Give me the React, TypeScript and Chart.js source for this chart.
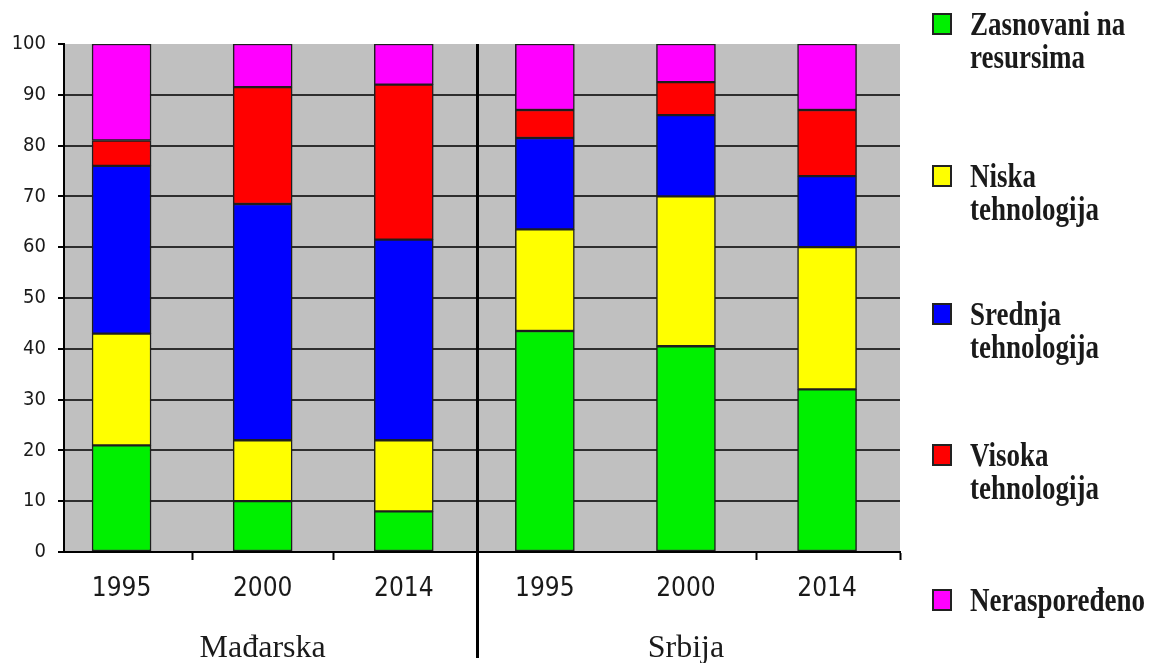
import React, { useEffect, useRef } from "react";
import { Chart, registerables } from "chart.js";

Chart.register(...registerables);

// ---- data ----
const categories = ["1995", "2000", "2014", "1995", "2000", "2014"];
const groupLabels = ["Mađarska", "Srbija"];
const groupCenters = [1, 4];
const resourceBased = [21, 10, 8, 43.5, 40.5, 32];
const lowTech = [22, 12, 14, 20, 29.5, 28];
const mediumTech = [33, 46.5, 39.5, 18, 16, 14];
const highTech = [5, 23, 30.5, 5.5, 6.5, 13];
const unallocated = [19, 8.5, 8, 13, 7.5, 13];
const seriesLabels = [
  ["Zasnovani na", "resursima"],
  ["Niska", "tehnologija"],
  ["Srednja", "tehnologija"],
  ["Visoka", "tehnologija"],
  ["Neraspoređeno"],
];
const seriesColors = ["#00f000", "#ffff00", "#0000ff", "#ff0000", "#ff00ff"];
const yTicks = [0, 10, 20, 30, 40, 50, 60, 70, 80, 90, 100];
const xTickMarks = [0.5, 1.5, 4.5];

const seriesValues = [resourceBased, lowTech, mediumTech, highTech, unallocated];

const X_MIN = -0.408;
const X_MAX = 5.517;
const SANS = "'DejaVu Sans Condensed', 'Liberation Sans', sans-serif";

const decorPlugin = {
  id: "decor",
  beforeDraw(chart: any) {
    const { ctx, chartArea } = chart;
    ctx.save();
    ctx.fillStyle = "#ffffff";
    ctx.fillRect(0, 0, chart.width, chart.height);
    ctx.fillStyle = "#c0c0c0";
    ctx.fillRect(chartArea.left, chartArea.top, chartArea.right - chartArea.left, chartArea.bottom - chartArea.top);
    ctx.restore();
  },
  afterDraw(chart: any) {
    const { ctx, chartArea } = chart;
    const xs = chart.scales.x;
    ctx.save();
    // separator between groups
    const sx = Math.round(xs.getPixelForValue(2.52)) + 0.5;
    ctx.strokeStyle = "#000";
    ctx.lineWidth = 3;
    ctx.beginPath();
    ctx.moveTo(sx, chartArea.top);
    ctx.lineTo(sx, 658);
    ctx.stroke();

    // group labels
    ctx.fillStyle = "#1a1a1a";
    ctx.font = "32px 'Liberation Serif'";
    ctx.textAlign = "center";
    ctx.textBaseline = "alphabetic";
    groupLabels.forEach((g, i) => {
      ctx.fillText(g, xs.getPixelForValue(groupCenters[i]), 657);
    });

    // legend
    const centers = [24, 176, 314, 455, 600];
    const sy = 1.25;
    const lineGap = 33;
    ctx.textAlign = "left";
    ctx.font = "bold 27px 'Liberation Serif'";
    chart.data.datasets.forEach((ds: any, i: number) => {
      const c = centers[i];
      ctx.fillStyle = ds.backgroundColor;
      ctx.fillRect(933, c - 10, 18, 20);
      ctx.strokeStyle = "#222";
      ctx.lineWidth = 2;
      ctx.strokeRect(933, c - 10, 18, 20);
      ctx.fillStyle = "#1a1a1a";
      seriesLabels[i].forEach((line, j) => {
        ctx.save();
        ctx.translate(970, c + 11 + j * lineGap);
        ctx.scale(1, sy);
        ctx.fillText(line, 0, 0);
        ctx.restore();
      });
    });
    ctx.restore();
  },
};

export default function App() {
  const ref = useRef<HTMLCanvasElement | null>(null);
  useEffect(() => {
    if (!ref.current) return;
    const chart = new Chart(ref.current, {
      type: "bar",
      data: {
        datasets: seriesValues.map((vals, si) => ({
          label: seriesLabels[si].join(" "),
          data: vals.map((v, i) => ({ x: i, y: v })),
          backgroundColor: seriesColors[si],
          borderColor: "#1e1e1e",
          borderWidth: 1.5,
          borderSkipped: false,
          barThickness: 59,
        })),
      },
      options: {
        responsive: false,
        animation: false,
        layout: { padding: { top: 44, right: 264, left: 0, bottom: 0 } },
        plugins: { legend: { display: false }, tooltip: { enabled: false } },
        scales: {
          x: {
            type: "linear",
            stacked: true,
            offset: false,
            min: X_MIN,
            max: X_MAX,
            afterBuildTicks(scale: any) {
              const vals = [0, 1, 2, 3, 4, 5, ...xTickMarks, X_MAX].sort((a, b) => a - b);
              scale.ticks = vals.map((v) => ({ value: v }));
            },
            afterFit(scale: any) {
              scale.height = 111;
            },
            ticks: {
              autoSkip: false,
              maxRotation: 0,
              padding: 14,
              color: "#1a1a1a",
              font: { family: SANS, size: 26 },
              callback: (v: any) => (Number.isInteger(v) ? categories[v] : ""),
            },
            grid: {
              offset: false,
              drawOnChartArea: false,
              drawTicks: true,
              tickLength: 8,
              tickWidth: 2,
              tickColor: (c: any) => (Number.isInteger(c.tick?.value) ? "rgba(0,0,0,0)" : "#000"),
            },
            border: { display: true, color: "#000", width: 2 },
          },
          y: {
            stacked: true,
            min: 0,
            max: 100,
            afterBuildTicks(scale: any) {
              scale.ticks = yTicks.map((v) => ({ value: v }));
            },
            afterFit(scale: any) {
              scale.width = 64;
            },
            ticks: {
              padding: 12,
              color: "#1a1a1a",
              font: { family: SANS, size: 20 },
            },
            grid: {
              color: (c: any) => (c.tick && (c.tick.value === 100 || c.tick.value === 0) ? "rgba(0,0,0,0)" : "#2e2e2e"),
              lineWidth: 2,
              tickLength: 6,
              tickWidth: 2,
              tickColor: "#000",
            },
            border: { display: true, color: "#000", width: 2 },
          },
        },
      },
      plugins: [decorPlugin],
    } as any);
    return () => chart.destroy();
  }, []);
  return (
    <div style={{ position: "fixed", left: 0, top: 0, width: 1164, height: 663, background: "#fff" }}>
      <canvas ref={ref} width={1164} height={663} style={{ display: "block", width: 1164, height: 663 }} />
    </div>
  );
}
